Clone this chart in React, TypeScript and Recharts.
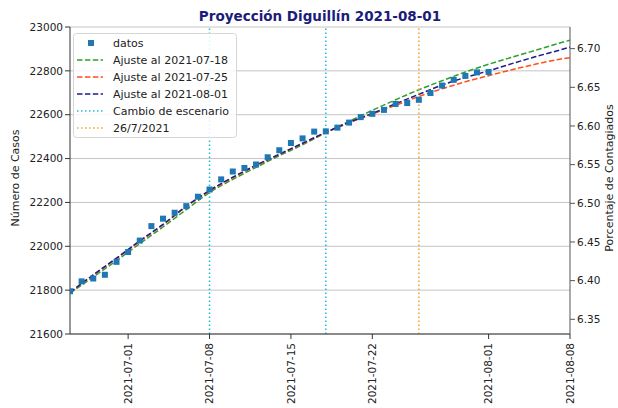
import React from 'react';
import { ComposedChart, Line, XAxis, YAxis, CartesianGrid, ReferenceLine } from 'recharts';

const START = Date.UTC(2021, 5, 26);
const DAY = 86400000;
const FONT = 'DejaVu Sans, sans-serif';

// casos acumulados, un valor por día desde 2021-06-26
const datos = [
  21795, 21840, 21853, 21870, 21929, 21974, 22026, 22092, 22126, 22153,
  22183, 22226, 22259, 22305, 22341, 22357, 22373, 22406, 22438, 22471,
  22492, 22523, 22524, 22541, 22564, 22589, 22604, 22622, 22649, 22653,
  22668, 22699, 22733, 22759, 22777, 22793, 22795,
];

// días (desde 2021-06-26) donde se leen las curvas de ajuste
const fitDays = [0, 2, 4, 6, 8, 10, 12, 14, 16, 18, 20, 22, 24, 26, 28, 30, 32, 34, 36, 38, 40, 42, 43];
const ajuste0718 = [
  21786, 21860, 21935, 22012, 22088, 22167, 22245, 22305, 22360, 22413,
  22463, 22518, 22570, 22620, 22668, 22714, 22755, 22795, 22830, 22862,
  22893, 22925, 22940,
];
const ajuste0725 = [
  21790, 21868, 21944, 22022, 22098, 22180, 22252, 22312, 22367, 22418,
  22468, 22518, 22563, 22603, 22643, 22683, 22718, 22750, 22778, 22805,
  22830, 22852, 22860,
];
const ajuste0801 = [
  21790, 21870, 21946, 22025, 22100, 22183, 22255, 22315, 22370, 22420,
  22470, 22520, 22565, 22606, 22650, 22693, 22735, 22770, 22800, 22833,
  22864, 22893, 22908,
];

const xTicks = ['2021-07-01', '2021-07-08', '2021-07-15', '2021-07-22', '2021-08-01', '2021-08-08'];
const leftTicks = [21600, 21800, 22000, 22200, 22400, 22600, 22800, 23000];
const rightTicks = [6.35, 6.4, 6.45, 6.5, 6.55, 6.6, 6.65, 6.7];
const cambioEscenario = ['2021-07-08', '2021-07-18'];
const fechaCorte = '2021-07-26';

const dayOf = (s: string) => Math.round((Date.parse(s) - START) / DAY);
const labelOf = (d: number) => new Date(START + d * DAY).toISOString().slice(0, 10);

const rows: any[] = [];
for (let d = 0; d <= dayOf('2021-08-08'); d++) {
  const k = fitDays.indexOf(d);
  rows.push({
    d,
    datos: d < datos.length ? datos[d] : null,
    a18: k >= 0 ? ajuste0718[k] : null,
    a25: k >= 0 ? ajuste0725[k] : null,
    a01: k >= 0 ? ajuste0801[k] : null,
  });
}

const C_DATOS = '#1f77b4';
const C_18 = '#2ca02c';
const C_25 = '#ff4f1a';
const C_01 = '#1c1c8c';
const C_CAMBIO = '#17becf';
const C_CORTE = '#ff9f2e';

const DateTick = ({ x, y, payload }: any) => (
  <g transform={`translate(${x},${y + 2}) rotate(-90)`}>
    <text textAnchor="end" dy="0.35em" fontSize={10.5} fontFamily={FONT} fill="#222">
      {labelOf(payload.value)}
    </text>
  </g>
);

const SquareDot = ({ cx, cy, payload, index }: any) => {
  if (payload == null || payload.datos == null || cy == null) return <g key={index} />;
  return <rect key={index} x={cx - 3} y={cy - 3} width={6} height={6} fill={C_DATOS} />;
};

const legendItems = [
  { label: 'datos', kind: 'square', color: C_DATOS },
  { label: 'Ajuste al 2021-07-18', kind: 'dash', color: C_18 },
  { label: 'Ajuste al 2021-07-25', kind: 'dash', color: C_25 },
  { label: 'Ajuste al 2021-08-01', kind: 'dash', color: C_01 },
  { label: 'Cambio de escenario', kind: 'dot', color: C_CAMBIO },
  { label: '26/7/2021', kind: 'dot', color: C_CORTE },
];

export default function App() {
  const tickStyle = { fontSize: 10.5, fontFamily: FONT, fill: '#222' };
  return (
    <div style={{ position: 'relative', width: 618, height: 408, background: '#fff' }}>
      <style>{'body{margin:0}'}</style>
      <ComposedChart width={618} height={408} data={rows} margin={{ top: 27, right: 0, bottom: 0, left: 0 }}>
        <CartesianGrid yAxisId="left" vertical={false} stroke="#c4c4c4" strokeWidth={1} />
        <XAxis
          dataKey="d"
          type="number"
          domain={[0, dayOf('2021-08-08')]}
          ticks={xTicks.map(dayOf)}
          height={74}
          tick={<DateTick />}
          tickSize={5}
          tickLine={{ stroke: '#333' }}
          axisLine={{ stroke: '#333' }}
          allowDataOverflow
        />
        <YAxis
          yAxisId="left"
          width={70}
          domain={[21600, 23000]}
          ticks={leftTicks}
          tickSize={5}
          tick={tickStyle}
          tickLine={{ stroke: '#333' }}
          axisLine={{ stroke: '#333' }}
          allowDataOverflow
        />
        <YAxis
          yAxisId="right"
          orientation="right"
          width={48}
          domain={[6.331, 6.728]}
          ticks={rightTicks}
          tickFormatter={(v: number) => v.toFixed(2)}
          tickSize={5}
          tick={tickStyle}
          tickLine={{ stroke: '#555' }}
          axisLine={{ stroke: '#555' }}
          allowDataOverflow
        />
        <Line
          yAxisId="left"
          dataKey="datos"
          stroke="none"
          dot={<SquareDot />}
          activeDot={false}
          isAnimationActive={false}
        />
        <Line yAxisId="left" dataKey="a18" type="monotone" stroke={C_18} strokeWidth={1.5} strokeDasharray="5.5 2.4" dot={false} connectNulls isAnimationActive={false} />
        <Line yAxisId="left" dataKey="a25" type="monotone" stroke={C_25} strokeWidth={1.5} strokeDasharray="5.5 2.4" dot={false} connectNulls isAnimationActive={false} />
        <Line yAxisId="left" dataKey="a01" type="monotone" stroke={C_01} strokeWidth={1.5} strokeDasharray="5.5 2.4" dot={false} connectNulls isAnimationActive={false} />
        {cambioEscenario.map((f) => (
          <ReferenceLine key={f} yAxisId="left" x={dayOf(f)} stroke={C_CAMBIO} strokeWidth={1.5} strokeDasharray="1.5 2.5" />
        ))}
        <ReferenceLine yAxisId="left" x={dayOf(fechaCorte)} stroke={C_CORTE} strokeWidth={1.5} strokeDasharray="1.5 2.5" />
      </ComposedChart>

      <svg width={618} height={408} style={{ position: 'absolute', left: 0, top: 0, pointerEvents: 'none' }}>
        <text x={320} y={21} textAnchor="middle" fontFamily={FONT} fontWeight="bold" fontSize={13.5} fill="#1c1c7a">
          Proyección Diguillín 2021-08-01
        </text>
        <text transform="translate(19,178) rotate(-90)" textAnchor="middle" fontFamily={FONT} fontSize={11} fill="#222">
          Número de Casos
        </text>
        <text transform="translate(613,178) rotate(-90)" textAnchor="middle" fontFamily={FONT} fontSize={11} fill="#222">
          Porcentaje de Contagiados
        </text>
        <g>
          <rect x={73.5} y={33.5} width={163} height={104} rx={3} fill="#fff" fillOpacity={0.85} stroke="#d6d6d6" />
          {legendItems.map((it, i) => {
            const y = 43 + i * 17;
            return (
              <g key={it.label}>
                {it.kind === 'square' && <rect x={88} y={y - 3} width={6} height={6} fill={it.color} />}
                {it.kind === 'dash' && (
                  <line x1={77} x2={103} y1={y} y2={y} stroke={it.color} strokeWidth={1.5} strokeDasharray="5.5 2.4" />
                )}
                {it.kind === 'dot' && (
                  <line x1={77} x2={103} y1={y} y2={y} stroke={it.color} strokeWidth={1.5} strokeDasharray="1.5 2.5" />
                )}
                <text x={113} y={y} dy="0.35em" fontFamily={FONT} fontSize={11} fill="#222">
                  {it.label}
                </text>
              </g>
            );
          })}
        </g>
      </svg>
    </div>
  );
}
